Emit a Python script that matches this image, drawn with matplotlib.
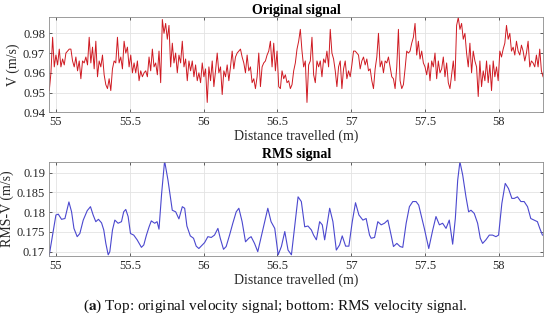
import numpy as np
import matplotlib.pyplot as plt

# distance grid of the raw velocity signal (constant sampling step)
V_START = 54.955
V_STEP = 0.01126

# original velocity signal (m/s)
v_orig = [
    0.951, 0.960, 0.978, 0.963, 0.969, 0.964, 0.972, 0.963, 0.967, 0.964,
    0.970, 0.971, 0.972, 0.972, 0.966, 0.963, 0.968, 0.961, 0.966, 0.957,
    0.966, 0.965, 0.968, 0.964, 0.978, 0.965, 0.973, 0.962, 0.976, 0.958,
    0.966, 0.963, 0.969, 0.959, 0.954, 0.952, 0.957, 0.951, 0.962, 0.966,
    0.965, 0.978, 0.965, 0.968, 0.962, 0.976, 0.970, 0.973, 0.963, 0.969,
    0.960, 0.965, 0.960, 0.966, 0.956, 0.961, 0.958, 0.960, 0.961, 0.958,
    0.968, 0.961, 0.972, 0.963, 0.965, 0.959, 0.971, 0.955, 0.987, 0.980,
    0.985, 0.977, 0.984, 0.963, 0.975, 0.965, 0.970, 0.960, 0.969, 0.965,
    0.976, 0.963, 0.967, 0.956, 0.966, 0.961, 0.966, 0.958, 0.964, 0.956,
    0.960, 0.955, 0.965, 0.958, 0.962, 0.945, 0.963, 0.956, 0.966, 0.953,
    0.961, 0.970, 0.960, 0.963, 0.949, 0.961, 0.958, 0.964, 0.956, 0.963,
    0.971, 0.962, 0.968, 0.970, 0.971, 0.972, 0.968, 0.965, 0.960, 0.969,
    0.961, 0.963, 0.955, 0.957, 0.952, 0.958, 0.970, 0.953, 0.963, 0.965,
    0.966, 0.969, 0.971, 0.976, 0.963, 0.975, 0.961, 0.971, 0.953,
    0.952, 0.961, 0.957, 0.959, 0.955, 0.956, 0.952, 0.954, 0.961, 0.965,
    0.972, 0.976, 0.982, 0.971, 0.963, 0.966, 0.945, 0.964, 0.966, 0.978,
    0.959, 0.955, 0.966, 0.963, 0.966, 0.958, 0.967, 0.965, 0.971, 0.963,
    0.982, 0.970, 0.967, 0.961, 0.953, 0.963, 0.966, 0.952, 0.962, 0.966,
    0.957, 0.961, 0.958, 0.964, 0.971, 0.971, 0.970, 0.969, 0.962, 0.966,
    0.968, 0.964, 0.967, 0.961, 0.962, 0.956, 0.952, 0.962, 0.968, 0.980,
    0.963, 0.966, 0.960, 0.966, 0.965, 0.968, 0.963, 0.958, 0.957, 0.952,
    0.963, 0.982, 0.956, 0.952, 0.954, 0.962, 0.971, 0.970, 0.971, 0.975,
    0.978, 0.985, 0.969, 0.976, 0.967, 0.971, 0.965, 0.963, 0.959, 0.965,
    0.956, 0.966, 0.963, 0.970, 0.957, 0.966, 0.960, 0.962, 0.968, 0.958,
    0.965, 0.955, 0.952, 0.959, 0.966, 0.956, 0.984, 0.988, 0.982, 0.985,
    0.977, 0.980, 0.970, 0.963, 0.975, 0.960, 0.971, 0.966, 0.963, 0.948,
    0.966, 0.953, 0.961, 0.956, 0.966, 0.955, 0.964, 0.951, 0.966, 0.958,
    0.963, 0.956, 0.971, 0.968, 0.972, 0.975, 0.984, 0.977, 0.980, 0.971,
    0.973, 0.969, 0.976, 0.971, 0.969, 0.974, 0.971, 0.966, 0.970, 0.976,
    0.963, 0.966, 0.965, 0.963, 0.969, 0.963, 0.972, 0.961, 0.958,
]

# RMS velocity signal: distance (m) and value (m/s)
rms_x = [
    54.955, 55.000, 55.016, 55.038, 55.061, 55.072, 55.088, 55.106, 55.122, 55.144,
    55.162, 55.185, 55.212, 55.234, 55.252, 55.270, 55.288, 55.309, 55.324, 55.338,
    55.354, 55.365, 55.383, 55.399, 55.421, 55.444, 55.459, 55.473, 55.489, 55.505,
    55.527, 55.550, 55.579, 55.595, 55.613, 55.631, 55.646, 55.669, 55.685, 55.698,
    55.716, 55.736, 55.759, 55.775, 55.788, 55.811, 55.833, 55.856, 55.872, 55.887,
    55.910, 55.932, 55.950, 55.968, 55.984, 56.007, 56.029, 56.052, 56.074, 56.097,
    56.113, 56.135, 56.153, 56.176, 56.198, 56.221, 56.239, 56.261, 56.284, 56.306,
    56.322, 56.345, 56.367, 56.401, 56.435, 56.457, 56.482, 56.505, 56.527, 56.550,
    56.572, 56.595, 56.617, 56.640, 56.662, 56.685, 56.707, 56.730, 56.745, 56.764,
    56.786, 56.804, 56.820, 56.854, 56.876, 56.899, 56.921, 56.939, 56.962, 56.984,
    57.007, 57.029, 57.052, 57.079, 57.101, 57.124, 57.135, 57.158, 57.180, 57.203,
    57.225, 57.248, 57.270, 57.286, 57.309, 57.331, 57.349, 57.372, 57.394, 57.417,
    57.439, 57.457, 57.473, 57.495, 57.525, 57.552, 57.574, 57.597, 57.619, 57.642,
    57.664, 57.687, 57.705, 57.721, 57.736, 57.755, 57.777, 57.795, 57.811, 57.833,
    57.856, 57.874, 57.890, 57.912, 57.935, 57.957, 57.980, 57.998, 58.020, 58.043,
    58.065, 58.088, 58.104, 58.126, 58.149, 58.171, 58.194, 58.216, 58.239, 58.261,
    58.277, 58.295,
]
rms_v = [
    0.1692, 0.1793, 0.1795, 0.1782, 0.1784, 0.1801, 0.1826, 0.1801, 0.1759, 0.1738,
    0.1746, 0.1780, 0.1804, 0.1814, 0.1793, 0.1776, 0.1782, 0.1773, 0.1755, 0.1721,
    0.1692, 0.1700, 0.1755, 0.1780, 0.1772, 0.1776, 0.1801, 0.1807, 0.1789, 0.1746,
    0.1742, 0.1730, 0.1711, 0.1717, 0.1742, 0.1763, 0.1778, 0.1772, 0.1776, 0.1757,
    0.1848, 0.1930, 0.1881, 0.1839, 0.1805, 0.1801, 0.1783, 0.1814, 0.1810, 0.1765,
    0.1740, 0.1734, 0.1714, 0.1708, 0.1714, 0.1723, 0.1738, 0.1736, 0.1742, 0.1759,
    0.1734, 0.1706, 0.1713, 0.1742, 0.1772, 0.1801, 0.1810, 0.1776, 0.1725, 0.1734,
    0.1738, 0.1721, 0.1700, 0.1755, 0.1810, 0.1776, 0.1759, 0.1692, 0.1713, 0.1751,
    0.1704, 0.1692, 0.1763, 0.1839, 0.1827, 0.1763, 0.1765, 0.1755, 0.1742, 0.1730,
    0.1776, 0.1768, 0.1730, 0.1810, 0.1776, 0.1704, 0.1717, 0.1740, 0.1714, 0.1714,
    0.1776, 0.1824, 0.1793, 0.1780, 0.1784, 0.1742, 0.1734, 0.1736, 0.1776, 0.1768,
    0.1772, 0.1780, 0.1742, 0.1713, 0.1721, 0.1713, 0.1711, 0.1772, 0.1814, 0.1827,
    0.1827, 0.1818, 0.1793, 0.1759, 0.1708, 0.1755, 0.1789, 0.1768, 0.1772, 0.1759,
    0.1780, 0.1719, 0.1784, 0.1881, 0.1928, 0.1894, 0.1839, 0.1801, 0.1805, 0.1797,
    0.1772, 0.1734, 0.1721, 0.1730, 0.1742, 0.1742, 0.1738, 0.1742, 0.1822, 0.1873,
    0.1860, 0.1835, 0.1835, 0.1839, 0.1827, 0.1827, 0.1814, 0.1784, 0.1780, 0.1776,
    0.1759, 0.1742,
]

x_ticks = [55, 55.5, 56, 56.5, 57, 57.5, 58]
x_ticklabels = ["55", "55.5", "56", "56.5", "57", "57.5", "58"]
v_ticks = [0.94, 0.95, 0.96, 0.97, 0.98]
v_ticklabels = ["0.94", "0.95", "0.96", "0.97", "0.98"]
rms_ticks = [0.17, 0.175, 0.18, 0.185, 0.19]
rms_ticklabels = ["0.17", "0.175", "0.18", "0.185", "0.19"]

plt.rcParams['font.family'] = ['Liberation Serif', 'DejaVu Serif']
plt.rcParams['mathtext.fontset'] = 'stix'

fig = plt.figure(figsize=(5.5, 3.26), dpi=100)
ax1 = fig.add_axes([0.0896, 0.6555, 0.898, 0.2914])
ax2 = fig.add_axes([0.0896, 0.2147, 0.898, 0.2893])

dist = V_START + V_STEP * np.arange(len(v_orig))
ax1.plot(dist, v_orig, color='#cf1a22', linewidth=0.7)
ax2.plot(rms_x, rms_v, color='#4b48cf', linewidth=0.8)

for ax, yt, ytl, ylab, ttl in [(ax1, v_ticks, v_ticklabels, "V (m/s)", "Original signal"),
                               (ax2, rms_ticks, rms_ticklabels, "RMS-V (m/s)", "RMS signal")]:
    ax.set_xlim(54.955, 58.30)
    ax.set_xticks(x_ticks)
    ax.set_xticklabels(x_ticklabels)
    ax.set_yticks(yt)
    ax.set_yticklabels(ytl)
    ax.grid(True, color='#e3e3e3', linewidth=0.6)
    ax.set_axisbelow(True)
    ax.tick_params(direction='in', top=True, right=True, length=2.5,
                   width=0.5, labelsize=9, colors='#262626', pad=3)
    for s in ax.spines.values():
        s.set_color('#8c8c8c')
        s.set_linewidth(0.6)
    ax.set_xlabel("Distance travelled (m)", fontsize=10, labelpad=1,
                  color='#262626')
    ax.set_ylabel(ylab, fontsize=10, labelpad=2, color='#262626')
    ax.set_title(ttl, fontsize=10, fontweight='bold', pad=2.5)

ax1.set_ylim(0.94, 0.9881)
ax2.set_ylim(0.1689, 0.1928)

fig.text(0.5, 1 - 306 / 326,
         r"($\mathbf{a}$) Top: original velocity signal; bottom: RMS velocity signal.",
         ha='center', va='center', fontsize=11, color='#111111')

fig.savefig("out.png", dpi=100)
